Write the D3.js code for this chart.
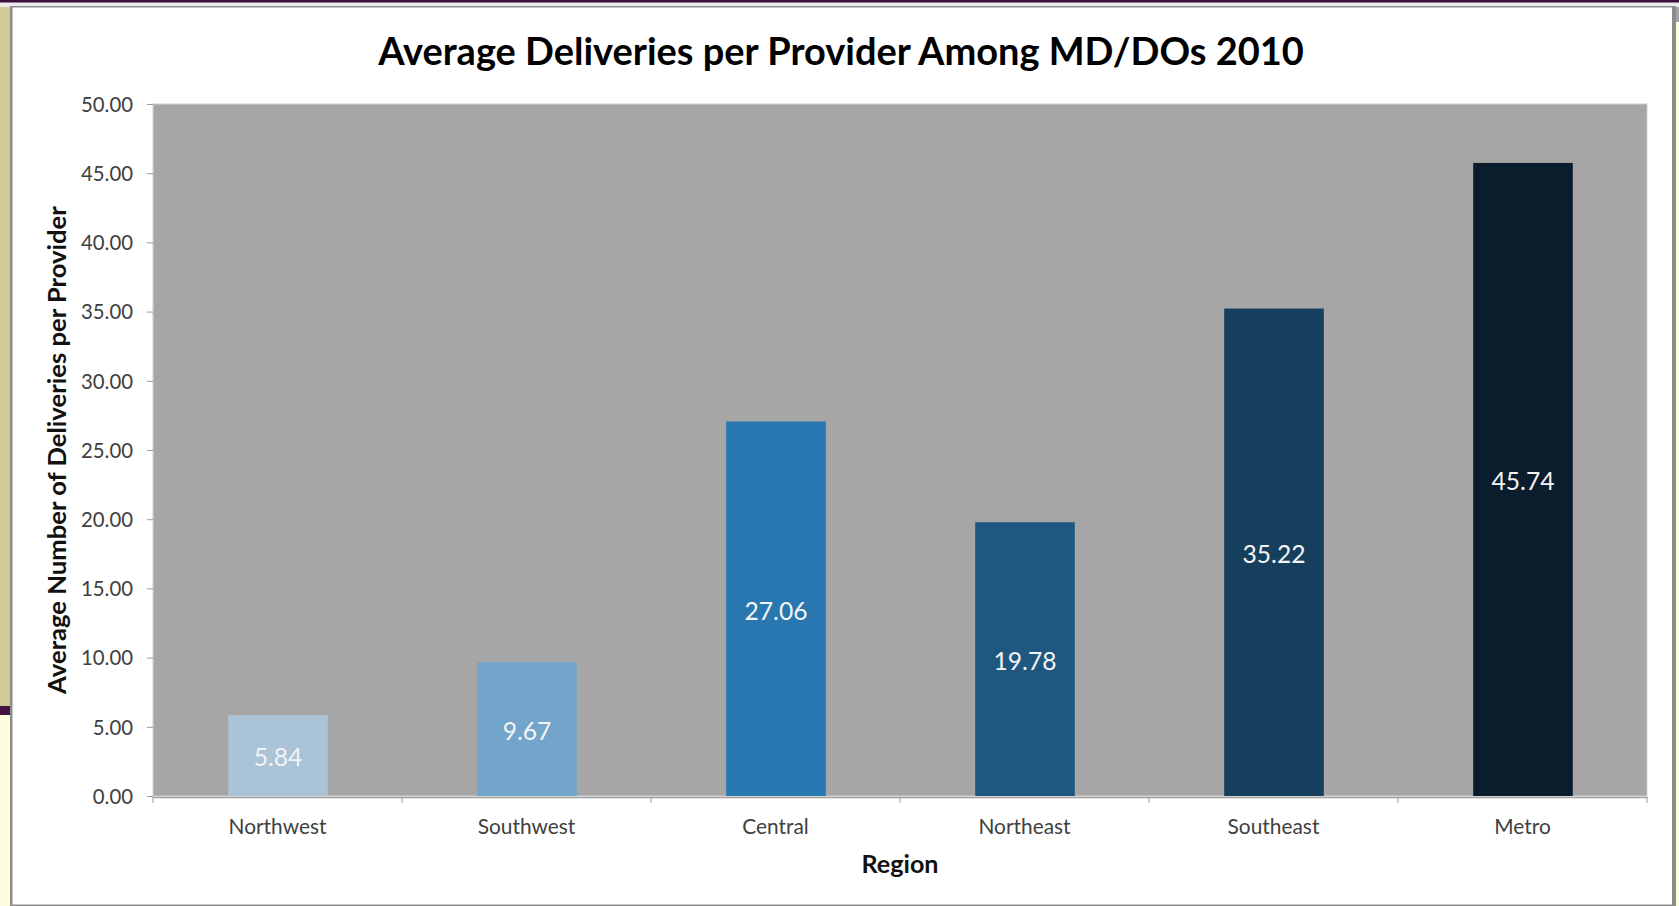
<!DOCTYPE html>
<html>
<head>
<meta charset="utf-8">
<script src="https://cdn.jsdelivr.net/npm/d3@7"></script>
<style>
  html, body { margin: 0; padding: 0; background: #ffffff; overflow: hidden; }
  svg { display: block; }
</style>
</head>
<body>
<svg id="chart" width="1679" height="906"></svg>
<script>
// Average deliveries per provider (MD/DO), by region, 2010
const regions = ["Northwest", "Southwest", "Central", "Northeast", "Southeast", "Metro"];
const avgDeliveries = [5.84, 9.67, 27.06, 19.78, 35.22, 45.74];
const barColors = ["#abc3d6", "#72a5c9", "#2977b0", "#1e5880", "#163f5e", "#0b1d2c"];
const yTicks = [0, 5, 10, 15, 20, 25, 30, 35, 40, 45, 50];

const titleText = "Average Deliveries per Provider Among MD/DOs 2010";
const yTitleText = "Average Number of Deliveries per Provider";
const xTitleText = "Region";

const W = 1679, H = 906;
const FONT = "Lato, 'Open Sans', sans-serif";
const svg = d3.select("#chart");

// font size that makes `text` span `target` pixels
function fitSize(text, target, weight) {
  const t = svg.append("text")
    .attr("font-family", FONT).attr("font-weight", weight || 400)
    .attr("font-size", 100).text(text);
  const len = t.node().getComputedTextLength();
  t.remove();
  return 100 * target / len;
}

// ---- slide frame around the chart ----
svg.append("rect").attr("x", 0).attr("y", 0).attr("width", W).attr("height", H).attr("fill", "#fffde0");
svg.append("rect").attr("x", 0).attr("y", 0).attr("width", 11).attr("height", 706).attr("fill", "#cfcb98");
svg.append("rect").attr("x", 0).attr("y", 706).attr("width", 11).attr("height", 9).attr("fill", "#431241");
svg.append("rect").attr("x", 1672).attr("y", 0).attr("width", 7).attr("height", 22).attr("fill", "#a4a4a4");
svg.append("rect").attr("x", 0).attr("y", 2).attr("width", W).attr("height", 5).attr("fill", "#ececec");
svg.append("rect").attr("x", 0).attr("y", 0).attr("width", W).attr("height", 2.5).attr("fill", "#3c0f3a");

// white chart box with a grey edge
svg.append("rect").attr("x", 10).attr("y", 6).attr("width", 1666).attr("height", 902)
  .attr("fill", "#8c8c8c");
svg.append("rect").attr("x", 12.5).attr("y", 7.5).attr("width", 1659.5).attr("height", 897)
  .attr("fill", "#ffffff");

// ---- plot geometry ----
const plot = { left: 153, right: 1647, top: 104, bottom: 796 };

const x = d3.scaleBand()
  .domain(regions)
  .range([plot.left, plot.right])
  .paddingInner(0.6)
  .paddingOuter(0.3);

const y = d3.scaleLinear()
  .domain([0, 50])
  .range([plot.bottom, plot.top]);

// plot background
svg.append("rect")
  .attr("x", plot.left).attr("y", plot.top)
  .attr("width", plot.right - plot.left).attr("height", plot.bottom - plot.top)
  .attr("fill", "#a6a6a6")
  .attr("stroke", "#cfcfcf").attr("stroke-width", 1);

// bars
svg.append("g").selectAll("rect")
  .data(regions)
  .join("rect")
  .attr("x", d => x(d) + 0.5)
  .attr("y", (d, i) => y(avgDeliveries[i]))
  .attr("width", x.bandwidth())
  .attr("height", (d, i) => y(0) - y(avgDeliveries[i]))
  .attr("fill", (d, i) => barColors[i]);

// value labels, centred inside each bar
const valueSize = fitSize("27.06", 63);
svg.append("g").selectAll("text")
  .data(regions)
  .join("text")
  .attr("x", d => x(d) + x.bandwidth() / 2 + 0.5)
  .attr("y", (d, i) => y(avgDeliveries[i] / 2) + 2)
  .attr("dy", "0.36em")
  .attr("text-anchor", "middle")
  .attr("font-family", FONT)
  .attr("font-size", valueSize)
  .attr("fill", "#f4f4f4")
  .text((d, i) => d3.format(".2f")(avgDeliveries[i]));

// ---- y axis ----
const tickSize = fitSize("50.00", 52);
const yAxis = svg.append("g")
  .attr("transform", `translate(${plot.left},0)`)
  .call(d3.axisLeft(y).tickValues(yTicks).tickFormat(d3.format(".2f"))
    .tickSize(6).tickSizeOuter(0).tickPadding(14));
yAxis.select(".domain").attr("stroke", "#bdbdbd");
yAxis.selectAll(".tick line").attr("stroke", "#9a9a9a");
yAxis.selectAll(".tick text")
  .attr("font-family", FONT).attr("font-size", tickSize)
  .attr("fill", "#404040").attr("dy", "0.36em");

// ---- x axis ----
const catSize = fitSize("Northwest", 98);
const xAxis = svg.append("g")
  .attr("transform", `translate(0,${plot.bottom + 1})`)
  .call(d3.axisBottom(x).tickSize(0).tickSizeOuter(0));
xAxis.select(".domain").attr("stroke", "#a0a0a0").attr("stroke-width", 1.5);
xAxis.selectAll(".tick text")
  .attr("y", 29).attr("dy", "0.36em")
  .attr("font-family", FONT).attr("font-size", catSize)
  .attr("fill", "#404040");

// category boundary ticks
const boundaries = d3.range(regions.length + 1).map(i => plot.left + i * x.step());
xAxis.append("g").selectAll("line")
  .data(boundaries)
  .join("line")
  .attr("x1", d => d).attr("x2", d => d)
  .attr("y1", 0).attr("y2", 6)
  .attr("stroke", "#9a9a9a");

// ---- titles ----
const titleSize = fitSize(titleText, 926, 700);
svg.append("text")
  .attr("x", 841).attr("y", 51).attr("dy", "0.36em")
  .attr("text-anchor", "middle")
  .attr("font-family", FONT).attr("font-weight", 700)
  .attr("font-size", titleSize).attr("fill", "#000000")
  .text(titleText);

const yTitleSize = fitSize(yTitleText, 488, 700);
svg.append("text")
  .attr("transform", `translate(57,${(plot.top + plot.bottom) / 2}) rotate(-90)`)
  .attr("dy", "0.36em")
  .attr("text-anchor", "middle")
  .attr("font-family", FONT).attr("font-weight", 700)
  .attr("font-size", yTitleSize).attr("fill", "#111111")
  .text(yTitleText);

const xTitleSize = fitSize(xTitleText, 77, 700);
svg.append("text")
  .attr("x", (plot.left + plot.right) / 2).attr("y", 864).attr("dy", "0.36em")
  .attr("text-anchor", "middle")
  .attr("font-family", FONT).attr("font-weight", 700)
  .attr("font-size", xTitleSize).attr("fill", "#111111")
  .text(xTitleText);
</script>
</body>
</html>
